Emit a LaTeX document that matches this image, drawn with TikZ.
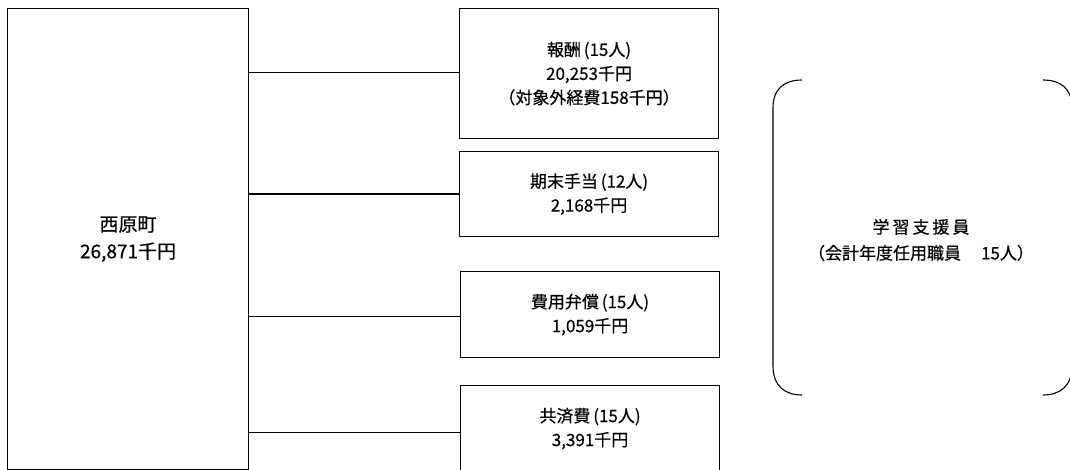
\documentclass[tikz,border=0pt]{standalone}
\usepackage{fontspec}
\setmainfont{Noto Sans CJK JP}[FakeBold=0.5]
\begin{document}
\begin{tikzpicture}[x=1pt,y=-1pt,
  box/.style={draw, line width=1.1pt, inner sep=0pt, anchor=north west, align=center},
  itembox/.style={box, minimum width=259pt, font=\fontsize{17}{24}\selectfont},
  conn/.style={line width=1.8pt},
  bracketline/.style={line width=1.1pt}]
\useasboundingbox (0,0) rectangle (1070,470);
\node[box, minimum width=241pt, minimum height=461pt, font=\fontsize{19}{27}\selectfont] (town) at (7,8) {西原町\\26,871千円};
\node[itembox, minimum height=130pt] (b1) at (459,8) {報酬\,(15人)\\20,253千円\\（対象外経費158千円）};
\node[itembox, minimum height=85pt] (b2) at (459,151) {期末手当\,(12人)\\2,168千円};
\node[itembox, minimum height=86pt] (b3) at (460,271) {費用弁償\,(15人)\\1,059千円};
\node[itembox, minimum height=86pt] (b4) at (460,385) {共済費\,(15人)\\3,391千円};
\draw[conn] ([yshift=1pt]b1.west) -- ([yshift=1pt]b1.west -| town.east);
\draw[conn] (b2.west) -- (b2.west -| town.east);
\draw[conn] ([yshift=-2pt]b3.west) -- ([yshift=-2pt]b3.west -| town.east);
\draw[conn] ([yshift=-4pt]b4.west) -- ([yshift=-4pt]b4.west -| town.east);
\draw[bracketline] (802,80) .. controls (785,80) and (773,88) .. (773,108) -- (773,366) .. controls (773,386) and (785,395) .. (802,395);
\draw[bracketline] (1043,80) .. controls (1060,80) and (1072,88) .. (1072,108) -- (1072,366) .. controls (1072,386) and (1060,395) .. (1043,395);
\node[align=center, font=\fontsize{17}{26}\selectfont] (staff) at (921,240) {学\hspace{3pt}習\hspace{3pt}支\hspace{3pt}援\hspace{3pt}員\\（会計年度任用職員\hspace{20pt}15人）};
\end{tikzpicture}
\end{document}
